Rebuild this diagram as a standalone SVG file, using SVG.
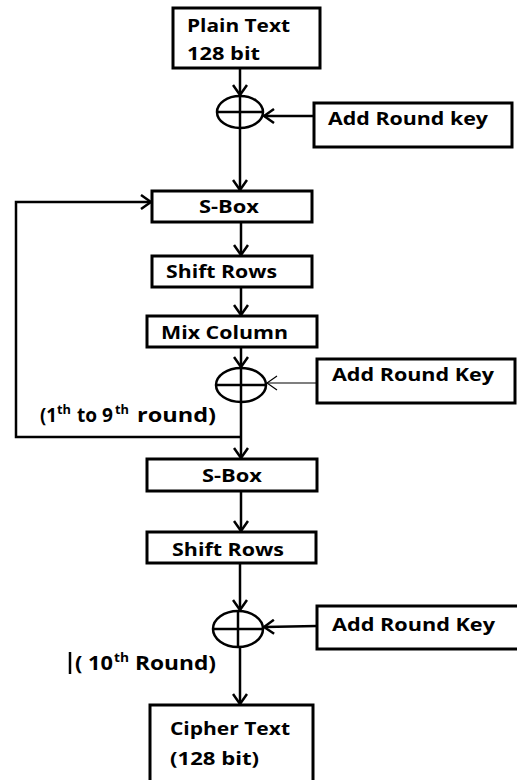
<svg xmlns="http://www.w3.org/2000/svg" width="517" height="780" viewBox="0 0 517 780">
<style>
.box{fill:#fff;stroke:#000;stroke-width:3}
.xor{fill:none;stroke:#000;stroke-width:2.5}
.t{font-family:"Open Sans","Liberation Sans",sans-serif;font-weight:700;font-size:18px;fill:#000}
.l{font-size:19px}
.sup{font-size:12px}
.c{fill:none;stroke:#000;stroke-width:2.5}
.thin{fill:none;stroke:#000;stroke-width:1.2}
</style>
<defs>
<marker id="ah" markerUnits="userSpaceOnUse" viewBox="0 0 12 16" refX="11" refY="8" markerWidth="12" markerHeight="16" orient="auto">
<path d="M1,1 L11,8 L1,15" fill="none" stroke="#000" stroke-width="2.5"/>
</marker>
<marker id="ahthin" markerUnits="userSpaceOnUse" viewBox="0 0 12 16" refX="11" refY="8" markerWidth="12" markerHeight="16" orient="auto">
<path d="M1,1 L11,8 L1,15" fill="none" stroke="#000" stroke-width="1.2"/>
</marker>
</defs>
<rect width="517" height="780" fill="#fff"/>
<g id="connectors">
<line class="c" x1="240" y1="68" x2="240" y2="95" marker-end="url(#ah)"/>
<line class="c" x1="314" y1="116" x2="264" y2="116" marker-end="url(#ah)"/>
<line class="c" x1="240" y1="128" x2="240" y2="190" marker-end="url(#ah)"/>
<line class="c" x1="241" y1="222" x2="241" y2="255" marker-end="url(#ah)"/>
<line class="c" x1="241" y1="287" x2="241" y2="315" marker-end="url(#ah)"/>
<line class="c" x1="241" y1="347" x2="241" y2="367" marker-end="url(#ah)"/>
<line class="thin" x1="317" y1="383" x2="267" y2="383" marker-end="url(#ahthin)"/>
<line class="c" x1="241" y1="402" x2="241" y2="458" marker-end="url(#ah)"/>
<path class="c" d="M241,437 H16 V202 H151" marker-end="url(#ah)"/>
<line class="c" x1="241" y1="491" x2="241" y2="531" marker-end="url(#ah)"/>
<line class="c" x1="240" y1="563" x2="240" y2="610" marker-end="url(#ah)"/>
<line class="c" x1="317" y1="626" x2="264" y2="627" marker-end="url(#ah)"/>
<line class="c" x1="240" y1="647" x2="240" y2="704" marker-end="url(#ah)"/>
</g>
<g id="plain-text">
<rect class="box" x="173" y="8" width="147" height="60"/>
<text class="t" x="187" y="32" textLength="103" lengthAdjust="spacingAndGlyphs">Plain Text</text>
<text class="t" x="187" y="60" textLength="73" lengthAdjust="spacingAndGlyphs">128 bit</text>
</g>
<g id="xor1">
<ellipse class="xor" cx="240" cy="112" rx="23" ry="16"/>
<line class="xor" x1="240" y1="96" x2="240" y2="128"/>
<line class="xor" x1="217" y1="112" x2="263" y2="112"/>
</g>
<g id="ark1">
<rect class="box" x="314" y="103" width="198" height="44"/>
<text class="t" x="328" y="125" textLength="160" lengthAdjust="spacingAndGlyphs">Add Round key</text>
</g>
<g id="sbox1">
<rect class="box" x="152" y="191" width="160" height="31"/>
<text class="t" x="199" y="213" textLength="60" lengthAdjust="spacingAndGlyphs">S-Box</text>
</g>
<g id="shift1">
<rect class="box" x="152" y="256" width="160" height="31"/>
<text class="t" x="166" y="278" textLength="111" lengthAdjust="spacingAndGlyphs">Shift Rows</text>
</g>
<g id="mix">
<rect class="box" x="147" y="316" width="170" height="31"/>
<text class="t" x="161" y="339" textLength="127" lengthAdjust="spacingAndGlyphs">Mix Column</text>
</g>
<g id="xor2">
<ellipse class="xor" cx="241" cy="385" rx="25" ry="17"/>
<line class="xor" x1="241" y1="368" x2="241" y2="402"/>
<line class="xor" x1="216" y1="385" x2="266" y2="385"/>
</g>
<g id="ark2">
<rect class="box" x="317" y="359" width="198" height="44"/>
<text class="t" x="332" y="381" textLength="162" lengthAdjust="spacingAndGlyphs">Add Round Key</text>
</g>
<g id="round-label">
<text class="t l" x="40" y="422" textLength="17" lengthAdjust="spacingAndGlyphs">(1</text>
<text class="t sup" x="57" y="414" textLength="14" lengthAdjust="spacingAndGlyphs">th</text>
<text class="t l" x="77" y="422" textLength="36" lengthAdjust="spacingAndGlyphs">to 9</text>
<text class="t sup" x="115" y="414" textLength="14" lengthAdjust="spacingAndGlyphs">th</text>
<text class="t l" x="137" y="422" textLength="79" lengthAdjust="spacingAndGlyphs">round)</text>
</g>
<g id="sbox2">
<rect class="box" x="147" y="459" width="170" height="32"/>
<text class="t" x="202" y="482" textLength="60" lengthAdjust="spacingAndGlyphs">S-Box</text>
</g>
<g id="shift2">
<rect class="box" x="147" y="532" width="169" height="31"/>
<text class="t" x="172" y="556" textLength="112" lengthAdjust="spacingAndGlyphs">Shift Rows</text>
</g>
<g id="xor3">
<ellipse class="xor" cx="238" cy="629" rx="25" ry="18"/>
<line class="xor" x1="238" y1="611" x2="238" y2="647"/>
<line class="xor" x1="213" y1="629" x2="263" y2="629"/>
</g>
<g id="ark3">
<rect class="box" x="317" y="606" width="202" height="43"/>
<text class="t" x="332" y="631" textLength="163" lengthAdjust="spacingAndGlyphs">Add Round Key</text>
</g>
<g id="round10-label">
<line x1="70" y1="652" x2="70" y2="674" stroke="#000" stroke-width="2.5"/>
<text class="t l" x="75" y="670" textLength="38" lengthAdjust="spacingAndGlyphs">( 10</text>
<text class="t sup" x="114" y="662" textLength="15" lengthAdjust="spacingAndGlyphs">th</text>
<text class="t l" x="135" y="670" textLength="81" lengthAdjust="spacingAndGlyphs">Round)</text>
</g>
<g id="cipher-text">
<rect class="box" x="150" y="705" width="163" height="90"/>
<text class="t" x="170" y="735" textLength="120" lengthAdjust="spacingAndGlyphs">Cipher Text</text>
<text class="t" x="170" y="765" textLength="89" lengthAdjust="spacingAndGlyphs">(128 bit)</text>
</g>
</svg>
